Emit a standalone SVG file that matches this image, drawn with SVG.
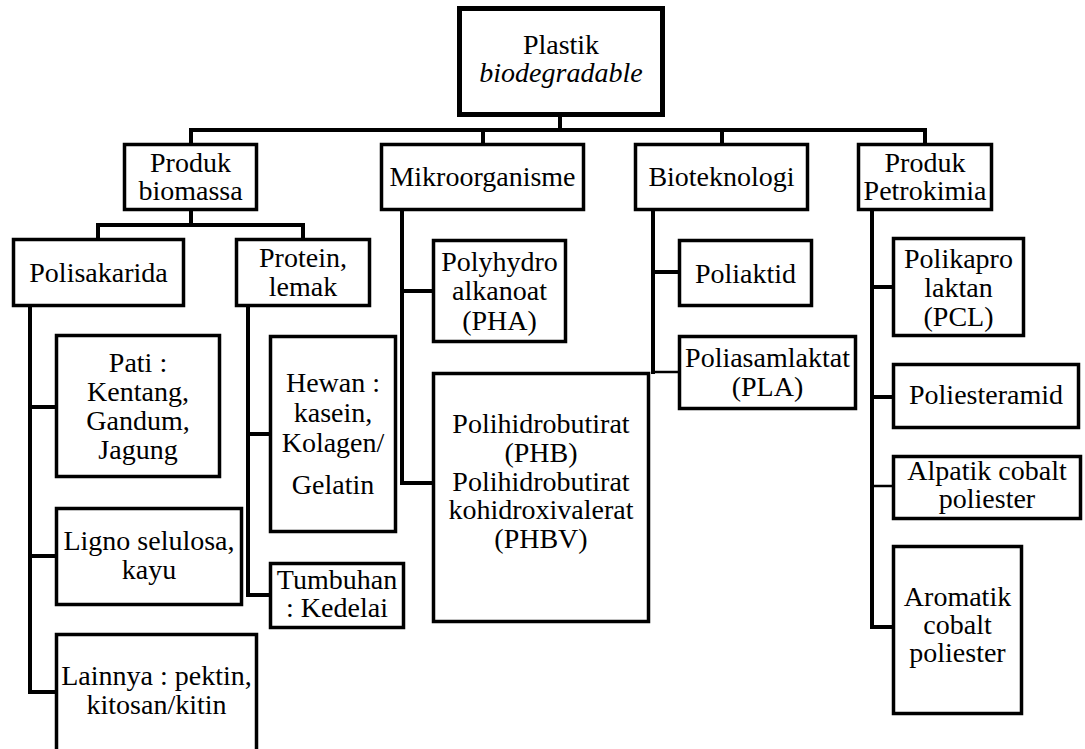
<svg xmlns="http://www.w3.org/2000/svg" width="1085" height="749" viewBox="0 0 1085 749">
<style>
.box{fill:#fff;stroke:#000;stroke-width:3.5}
.root{fill:#fff;stroke:#000;stroke-width:5}
.c{fill:none;stroke:#000;stroke-width:4;stroke-linecap:square}
.t{fill:none;stroke:#000;stroke-width:2.5}
</style>
<rect width="1085" height="749" fill="#fff"/>
<g id="connectors">
<path class="c" d="M560 117V130M191 130H925M191 130V143M483 130V143M722 130V143M925 130V143"/>
<path class="c" d="M191 211V225M98 225H303M98 225V238M303 225V238"/>
<path class="c" d="M30 307V692M30 407H55M30 556H55M30 692H55"/>
<path class="c" d="M248 307V595M248 434H269M248 595H269"/>
<path class="c" d="M402 211V483M402 291H432M402 483H432"/>
<path class="c" d="M653 211V372M653 272H678"/>
<path class="t" d="M653 372H678"/>
<path class="c" d="M872 211V627M872 287H892M872 397H892M872 627H892"/>
<path class="t" d="M872 486H892"/>
</g>
<g font-family="Liberation Serif" font-size="28" fill="#000" text-anchor="middle">
<g id="root"><rect class="root" x="459.5" y="8.5" width="203" height="106"/><text x="561" y="54">Plastik</text><text x="561" y="82" font-style="italic">biodegradable</text></g>
<g id="produk-biomassa"><rect class="box" x="124.5" y="144.5" width="132" height="65"/><text x="190.5" y="172">Produk</text><text x="190.5" y="200">biomassa</text></g>
<g id="mikroorganisme"><rect class="box" x="381.5" y="144.5" width="202" height="65"/><text x="482.5" y="186">Mikroorganisme</text></g>
<g id="bioteknologi"><rect class="box" x="635.5" y="144.5" width="172" height="65"/><text x="721.5" y="186">Bioteknologi</text></g>
<g id="produk-petrokimia"><rect class="box" x="858.5" y="144.5" width="133" height="65"/><text x="925" y="172">Produk</text><text x="925" y="200">Petrokimia</text></g>
<g id="polisakarida"><rect class="box" x="13.5" y="239.5" width="170" height="66"/><text x="98.5" y="282">Polisakarida</text></g>
<g id="protein"><rect class="box" x="236.5" y="239.5" width="133" height="66"/><text x="303" y="267">Protein,</text><text x="303" y="296">lemak</text></g>
<g id="pati"><rect class="box" x="56.5" y="335.5" width="163" height="141"/><text x="138" y="372">Pati :</text><text x="138" y="401">Kentang,</text><text x="138" y="430">Gandum,</text><text x="138" y="459">Jagung</text></g>
<g id="ligno"><rect class="box" x="56.5" y="508.5" width="185" height="96"/><text x="149" y="550">Ligno selulosa,</text><text x="149" y="579">kayu</text></g>
<g id="lainnya"><rect class="box" x="56.5" y="634.5" width="200" height="130"/><text x="156.5" y="685">Lainnya : pektin,</text><text x="156.5" y="714">kitosan/kitin</text></g>
<g id="hewan"><rect class="box" x="270.5" y="336.5" width="125" height="195"/><text x="333" y="392">Hewan :</text><text x="333" y="422">kasein,</text><text x="333" y="452">Kolagen/</text><text x="333" y="494">Gelatin</text></g>
<g id="tumbuhan"><rect class="box" x="270.5" y="563.5" width="133" height="64"/><text x="337" y="589">Tumbuhan</text><text x="337" y="617">: Kedelai</text></g>
<g id="pha"><rect class="box" x="433.5" y="240.5" width="132" height="101"/><text x="499.5" y="271">Polyhydro</text><text x="499.5" y="300">alkanoat</text><text x="499.5" y="330">(PHA)</text></g>
<g id="phb"><rect class="box" x="433.5" y="373.5" width="215" height="248"/><text x="541" y="433">Polihidrobutirat</text><text x="541" y="462">(PHB)</text><text x="541" y="491">Polihidrobutirat</text><text x="541" y="519">kohidroxivalerat</text><text x="541" y="548">(PHBV)</text></g>
<g id="poliaktid"><rect class="box" x="679.5" y="240.5" width="132" height="65"/><text x="745.5" y="283">Poliaktid</text></g>
<g id="pla"><rect class="box" x="679.5" y="336.5" width="176" height="72"/><text x="767.5" y="367">Poliasamlaktat</text><text x="767.5" y="396">(PLA)</text></g>
<g id="pcl"><rect class="box" x="893.5" y="238.5" width="130" height="97"/><text x="958.5" y="268">Polikapro</text><text x="958.5" y="297">laktan</text><text x="958.5" y="326">(PCL)</text></g>
<g id="poliesteramid"><rect class="box" x="893.5" y="364.5" width="185" height="63"/><text x="986" y="404">Poliesteramid</text></g>
<g id="alpatik"><rect class="box" x="893.5" y="456.5" width="187" height="62"/><text x="987" y="480">Alpatik cobalt</text><text x="987" y="508">poliester</text></g>
<g id="aromatik"><rect class="box" x="893.5" y="546.5" width="128" height="167"/><text x="957.5" y="606">Aromatik</text><text x="957.5" y="634">cobalt</text><text x="957.5" y="662">poliester</text></g>
</g>
</svg>
